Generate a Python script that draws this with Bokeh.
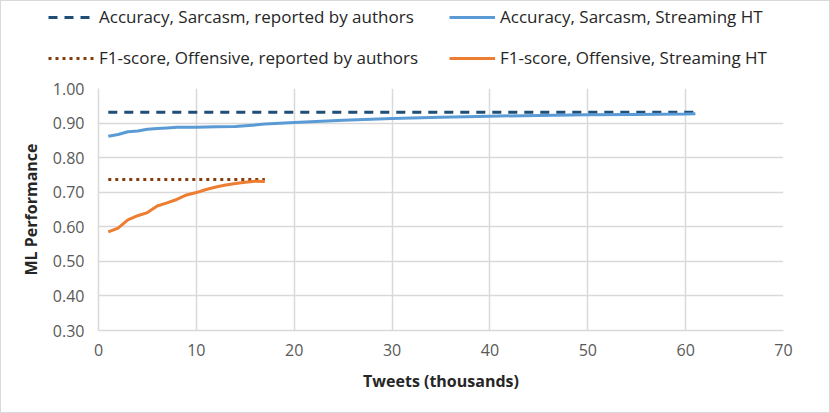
from bokeh.plotting import figure
from bokeh.layouts import column, row
from bokeh.models import Legend, LegendItem, FixedTicker, Range1d, PrintfTickFormatter
from bokeh.embed import file_html
from bokeh.resources import INLINE

# ---- data ----
sarc_x = [1, 2, 3, 4, 5, 6, 7, 8, 10, 12, 14, 15, 17, 20, 25, 30, 35, 40, 45, 50, 55, 60, 61]
sarc_y = [0.862, 0.867, 0.875, 0.877, 0.882, 0.884, 0.886, 0.888, 0.888, 0.889, 0.890, 0.892,
          0.897, 0.902, 0.908, 0.913, 0.917, 0.920, 0.922, 0.924, 0.925, 0.926, 0.927]
sarc_rep_x = [1, 61]
sarc_rep_y = [0.931, 0.931]

off_x = [1, 2, 3, 4, 5, 6, 7, 8, 9, 10, 11, 12, 13, 14, 15, 16, 17]
off_y = [0.585, 0.596, 0.620, 0.632, 0.641, 0.660, 0.669, 0.679, 0.692, 0.699, 0.708,
         0.715, 0.721, 0.725, 0.729, 0.732, 0.731]
off_rep_x = [1, 17]
off_rep_y = [0.737, 0.737]

x_ticks = [0, 10, 20, 30, 40, 50, 60, 70]
y_ticks = [0.3, 0.4, 0.5, 0.6, 0.7, 0.8, 0.9, 1.0]

labels = ["Accuracy, Sarcasm, reported by authors",
          "Accuracy, Sarcasm, Streaming HT",
          "F1-score, Offensive, reported by authors",
          "F1-score, Offensive, Streaming HT"]

FONT = "Open Sans"

series = [(sarc_rep_x, sarc_rep_y), (sarc_x, sarc_y), (off_rep_x, off_rep_y), (off_x, off_y)]
styles = [
    dict(line_color="#1f4e79", line_width=3, line_dash="9 7"),
    dict(line_color="#5b9bd5", line_width=3, line_join="round"),
    dict(line_color="#843c0c", line_width=3, line_dash="3 4"),
    dict(line_color="#ed7d31", line_width=3, line_join="round"),
]

W = 828
LEG_H = 75
MAIN_H = 336
ML, MR, MT, MB = 97, 46, 12, 82

# ---- main chart ----
p = figure(width=W, height=MAIN_H, output_backend="svg", toolbar_location=None,
           x_range=Range1d(0, 70), y_range=Range1d(0.3, 1.0),
           min_border_left=ML, min_border_right=MR, min_border_top=MT, min_border_bottom=MB)
p.outline_line_color = None

for (xs, ys), s in zip(series, styles):
    p.line(xs, ys, **s)

for ax in (p.xaxis[0], p.yaxis[0]):
    ax.axis_line_color = "#d9d9d9"
    ax.axis_line_width = 1.5
    ax.major_tick_in = 0
    ax.major_tick_out = 0
    ax.minor_tick_in = 0
    ax.minor_tick_out = 0
    ax.major_label_text_font = FONT
    ax.major_label_text_font_size = "16px"
    ax.major_label_text_color = "#595959"
    ax.axis_label_text_font = FONT
    ax.axis_label_text_font_size = "16px"
    ax.axis_label_text_font_style = "bold"
    ax.axis_label_text_color = "#262626"

p.xaxis.ticker = FixedTicker(ticks=x_ticks)
p.yaxis.ticker = FixedTicker(ticks=y_ticks)
p.yaxis.formatter = PrintfTickFormatter(format="%.2f")
p.xaxis.axis_label = "Tweets (thousands)"
p.yaxis.axis_label = "ML Performance"
p.xaxis.major_label_standoff = 13
p.yaxis.major_label_standoff = 14
p.xaxis.axis_label_standoff = 11
p.yaxis.axis_label_standoff = 8

p.xgrid.ticker = FixedTicker(ticks=x_ticks)
p.ygrid.ticker = FixedTicker(ticks=y_ticks)
p.grid.grid_line_color = "#d9d9d9"
p.grid.grid_line_width = 1.5

# ---- legend strip above the chart (its data view is scrolled away, only the legend shows) ----
lf = figure(width=W, height=LEG_H, output_backend="svg", toolbar_location=None,
            x_range=Range1d(0, W), y_range=Range1d(1000, 1000 + LEG_H),
            x_axis_location=None, y_axis_location=None,
            min_border_left=0, min_border_right=0, min_border_top=0, min_border_bottom=0)
lf.outline_line_color = None
lf.grid.visible = False
keys = [lf.line(xs, ys, **s) for (xs, ys), s in zip(series, styles)]

PAD, LH, SP = 4, 20, 18
box_h = PAD * 2 + LH * 2 + SP
box_top = 17 - LH / 2 - PAD - 1          # row 1 centred at page y = 17
leg_y = LEG_H - (box_top + box_h)


def make_legend(idx, glyph_left_page):
    lg = Legend(items=[LegendItem(label=labels[i], renderers=[keys[i]]) for i in idx],
                location=(glyph_left_page - PAD + 3, leg_y), orientation="vertical",
                border_line_color=None, background_fill_alpha=0, padding=PAD,
                glyph_width=46, glyph_height=LH, label_height=LH, spacing=SP,
                label_standoff=5, label_text_font=FONT, label_text_font_size="17px",
                label_text_color="#262626", margin=0)
    lf.add_layout(lg, "center")


make_legend([0, 2], 48)
make_legend([1, 3], 449)

lay = column(row(lf), p, spacing=0)
lay.styles = {"border": "1px solid #d9d9d9"}

open("out.html", "w").write(file_html(lay, INLINE))
